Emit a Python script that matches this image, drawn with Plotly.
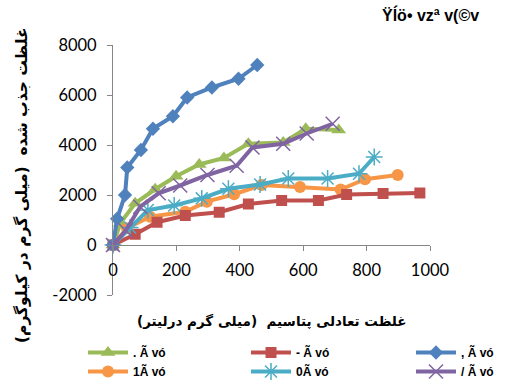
import plotly.graph_objects as go

# ---- data ----
blue_x = [0, 13, 38, 45, 88, 126, 189, 234, 312, 396, 455]
blue_y = [0, 1050, 2000, 3100, 3800, 4650, 5150, 5900, 6300, 6650, 7200]

red_x = [0, 70, 139, 228, 335, 427, 532, 648, 737, 852, 968]
red_y = [0, 430, 910, 1180, 1310, 1640, 1780, 1780, 2020, 2060, 2080]

green_x = [0, 23, 70, 133, 199, 272, 350, 427, 537, 608, 712]
green_y = [0, 870, 1670, 2230, 2750, 3220, 3480, 4050, 4100, 4650, 4600]

orange_x = [0, 44, 117, 228, 296, 382, 469, 590, 718, 795, 898]
orange_y = [0, 670, 1130, 1330, 1733, 2030, 2400, 2320, 2220, 2630, 2800]

teal_x = [0, 54, 110, 193, 280, 364, 464, 553, 677, 776, 824]
teal_y = [0, 700, 1400, 1580, 1867, 2250, 2420, 2660, 2660, 2850, 3520]

purple_x = [0, 40, 86, 144, 212, 298, 390, 440, 537, 611, 693]
purple_y = [0, 580, 1530, 2067, 2380, 2800, 3170, 3900, 4050, 4460, 4850]

legend_names = {
    "blue": ", Ã vó",
    "red": "- Ã vó",
    "green": ". Ã vó",
    "purple": "/ Ã vó",
    "teal": "0Ã vó",
    "orange": "1Ã vó",
}

title_text = "Ÿĺö• vzª v(©v"
y_title = "غلظت جذب شده  (میلی گرم در کیلوگرم)"
x_title = "غلظت تعادلی پتاسیم  (میلی گرم درلیتر)"

x_ticks = [0, 200, 400, 600, 800, 1000]
y_ticks = [-2000, 0, 2000, 4000, 6000, 8000]

# ---- figure ----
fig = go.Figure()

def add(x, y, name, color, symbol, size, legend, open_sym=False):
    marker = dict(symbol=symbol, size=size, color=color)
    if open_sym:
        marker["line"] = dict(color=color, width=1.5)
    fig.add_trace(go.Scatter(
        x=x, y=y, name=name, mode="lines+markers",
        line=dict(color=color, width=4),
        marker=marker, cliponaxis=False, legend=legend,
    ))

add(green_x, green_y, legend_names["green"], "#9BBB59", "triangle-up", 13, "legend")
add(orange_x, orange_y, legend_names["orange"], "#F79646", "circle", 12, "legend")
add(red_x, red_y, legend_names["red"], "#C0504D", "square", 11, "legend2")
add(teal_x, teal_y, legend_names["teal"], "#4BACC6", "asterisk-open", 14, "legend2", True)
add(blue_x, blue_y, legend_names["blue"], "#4F81BD", "diamond", 11, "legend3")
add(purple_x, purple_y, legend_names["purple"], "#8064A2", "x-thin-open", 14, "legend3", True)

L, R, T, B = 113, 78, 45, 94
W, H = 508, 389
pw, ph = W - L - R, H - T - B

def px_to_paper_x(px):
    return (px - L) / pw

def px_to_paper_y(py):
    return (H - B - py) / ph

leg_font = dict(family="Arial", size=12, color="black", weight="bold")
leg_common = dict(orientation="v", xanchor="left", yanchor="top",
                  font=leg_font, bgcolor="rgba(0,0,0,0)", tracegroupgap=0,
                  itemwidth=40)

fig.update_layout(
    width=W, height=H,
    margin=dict(l=L, r=R, t=T, b=B, autoexpand=False),
    paper_bgcolor="white", plot_bgcolor="white",
    showlegend=True,
    font=dict(family="Lato, Open Sans, sans-serif", color="black"),
    legend=dict(x=px_to_paper_x(83), y=px_to_paper_y(338), **leg_common),
    legend2=dict(x=px_to_paper_x(246), y=px_to_paper_y(338), **leg_common),
    legend3=dict(x=px_to_paper_x(411), y=px_to_paper_y(338), **leg_common),
    xaxis=dict(
        range=[0, 1000], tickvals=x_ticks, ticktext=[str(v) for v in x_ticks],
        anchor="free", position=0.2,
        showline=True, linecolor="#868686", linewidth=1,
        ticks="outside", ticklen=5, tickcolor="#868686",
        ticklabelstandoff=5,
        showgrid=False, zeroline=False,
        tickfont=dict(size=16.5, color="black"),
    ),
    yaxis=dict(
        range=[-2000, 8000], tickvals=y_ticks, ticktext=[str(v) for v in y_ticks],
        showline=True, linecolor="#868686", linewidth=1,
        ticks="outside", ticklen=5, tickcolor="#868686",
        ticklabelstandoff=7,
        showgrid=False, zeroline=False,
        tickfont=dict(size=16.5, color="black"),
    ),
    annotations=[
        dict(text=title_text, xref="paper", yref="paper",
             x=px_to_paper_x(430), y=px_to_paper_y(15),
             showarrow=False, xanchor="center", yanchor="middle",
             font=dict(family="Arial", size=16, color="black", weight="bold")),
        dict(text=y_title, xref="paper", yref="paper",
             x=px_to_paper_x(21), y=px_to_paper_y(185),
             showarrow=False, xanchor="center", yanchor="middle", textangle=-90,
             font=dict(family="DejaVu Sans", size=15.5, color="black", weight="bold")),
        dict(text=x_title, xref="paper", yref="paper",
             x=px_to_paper_x(272), y=px_to_paper_y(321),
             showarrow=False, xanchor="center", yanchor="middle",
             font=dict(family="DejaVu Sans", size=13.5, color="black", weight="bold")),
    ],
)

fig.write_html("out.html", config={"displayModeBar": False},
               post_script="document.body.style.margin='0';")
